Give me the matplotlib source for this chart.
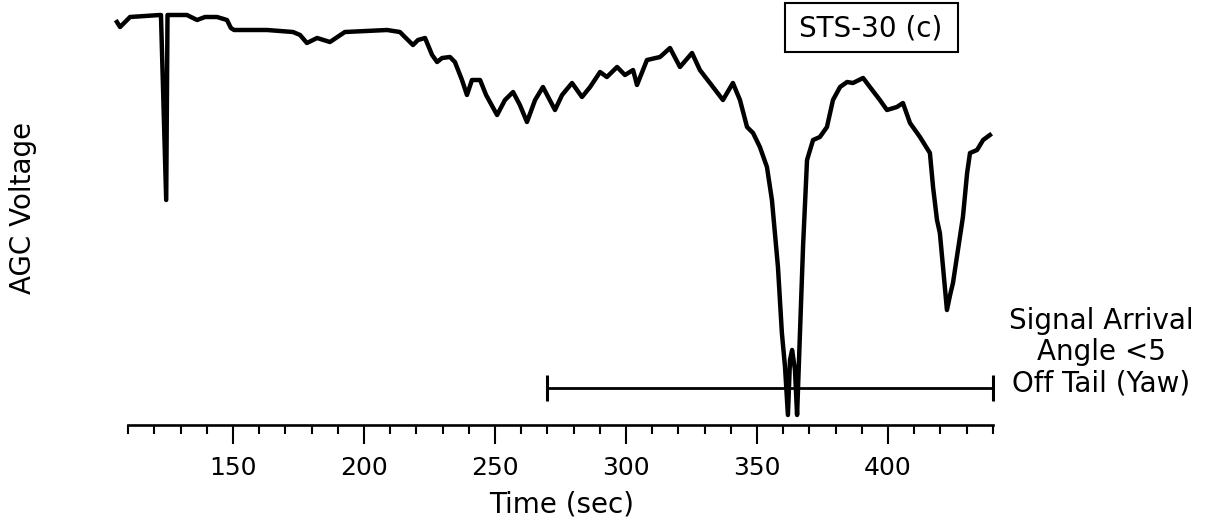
import matplotlib
matplotlib.use("Agg")
import matplotlib.pyplot as plt
from matplotlib.patches import Rectangle
from matplotlib.ticker import MultipleLocator, FixedLocator

plt.rcParams['font.family'] = ['DejaVu Sans']

# AGC voltage trace (time in s, voltage in arbitrary units)
time_s = [105.7, 106.9, 110.7, 122.1, 122.5, 124.5, 125.0, 132.4, 136.3, 139.3,
          143.9, 147.7, 149.2, 150.4, 163.0, 172.9, 175.6, 178.2, 182.1, 187.0,
          192.7, 208.8, 213.7, 215.6, 218.7, 220.6, 223.3, 226.0, 227.9, 229.8,
          232.8, 234.7, 237.4, 239.3, 241.2, 244.3, 246.6, 250.8, 253.8, 256.9,
          259.5, 262.2, 265.3, 268.3, 272.9, 275.6, 279.4, 283.2, 286.3, 290.1,
          292.7, 296.6, 299.6, 302.7, 304.2, 308.0, 313.0, 316.8, 320.6, 325.2,
          328.2, 333.2, 337.0, 340.8, 343.5, 346.2, 348.5, 351.1, 353.8, 355.7,
          358.0, 359.5, 360.7, 361.8, 362.6, 363.4, 364.5, 365.3, 366.4, 367.6,
          369.1, 371.4, 374.0, 376.7, 379.0, 381.7, 384.4, 386.6, 390.5, 393.1,
          396.9, 399.6, 403.4, 405.7, 408.4, 412.2, 416.0, 417.2, 418.7, 419.8,
          421.0, 422.5, 423.7, 424.8, 426.7, 428.6, 430.2, 431.3, 434.0, 436.3,
          438.9]
agc_volt = [4.03, 3.98, 4.08, 4.10, 4.10, 2.25, 4.10, 4.10, 4.05, 4.08,
            4.08, 4.05, 3.97, 3.95, 3.95, 3.93, 3.90, 3.82, 3.87, 3.83,
            3.93, 3.95, 3.93, 3.88, 3.80, 3.85, 3.87, 3.70, 3.63, 3.67,
            3.68, 3.63, 3.45, 3.30, 3.45, 3.45, 3.30, 3.10, 3.25, 3.33,
            3.20, 3.03, 3.25, 3.38, 3.15, 3.30, 3.42, 3.28, 3.38, 3.53,
            3.48, 3.58, 3.50, 3.55, 3.40, 3.65, 3.68, 3.77, 3.58, 3.72,
            3.55, 3.38, 3.25, 3.42, 3.25, 2.98, 2.92, 2.78, 2.58, 2.25,
            1.58, 0.92, 0.58, 0.10, 0.65, 0.75, 0.55, 0.10, 0.92, 1.80,
            2.65, 2.85, 2.88, 2.98, 3.25, 3.38, 3.43, 3.42, 3.47, 3.38,
            3.25, 3.15, 3.18, 3.22, 3.02, 2.88, 2.72, 2.38, 2.05, 1.92,
            1.58, 1.15, 1.30, 1.42, 1.75, 2.08, 2.52, 2.72, 2.75, 2.85,
            2.90]

# Signal arrival window (angle < 5 deg off tail)
window_start = 270
window_end = 440
window_level = 0.37

major_ticks = [150, 200, 250, 300, 350, 400]
tick_labels = ['150', '200', '250', '300', '350', '400']
axis_start, axis_end = 110, 440

W, H = 1212, 529
fig = plt.figure(figsize=(W / 100, H / 100), dpi=100)
ax = fig.add_axes([110 / W, (H - 425) / H, (993 - 110) / W, 425 / H])

ax.plot(time_s, agc_volt, color='black', lw=3.2, solid_joinstyle='round',
        clip_on=False)
ax.plot([window_start, window_end], [window_level, window_level],
        color='black', lw=2.0, marker='|', markersize=19, mew=2.2, clip_on=False)

ax.set_xlim(103.05, 440.08)
ax.set_ylim(0, 4.25)

for s in ['left', 'right', 'top']:
    ax.spines[s].set_visible(False)
ax.spines['bottom'].set_linewidth(1.9)
ax.spines['bottom'].set_bounds(axis_start, axis_end)
ax.set_yticks([])
ax.xaxis.set_major_locator(FixedLocator(major_ticks))
ax.set_xticklabels(tick_labels)
ax.xaxis.set_minor_locator(MultipleLocator(10))
ax.tick_params(axis='x', which='major', length=13.5, width=1.5, pad=9,
               labelsize=18)
ax.tick_params(axis='x', which='minor', length=6.5, width=1.5)

ax.set_xlabel('Time (sec)', fontsize=20)
ax.xaxis.set_label_coords((562 - 110) / 883, -(505 - 425) / 425)
ax.xaxis.label.set_va('center')
ax.set_ylabel('AGC Voltage', fontsize=20)
ax.yaxis.set_label_coords((23 - 110) / 883, (425 - 208) / 425)
ax.yaxis.label.set_va('center')

fig.text(1101 / W, 1 - 352 / H, 'Signal Arrival\nAngle <5\nOff Tail (Yaw)',
         ha='center', va='center', multialignment='center', fontsize=20,
         linespacing=1.15)

fig.patches.append(Rectangle((785 / W, 1 - 52 / H), (958 - 785) / W, 49 / H,
                             transform=fig.transFigure, fill=False,
                             edgecolor='black', lw=1.5))
fig.text(871 / W, 1 - 28 / H, 'STS-30 (c)', ha='center', va='center',
         fontsize=20)

fig.savefig('out.png', dpi=100)
